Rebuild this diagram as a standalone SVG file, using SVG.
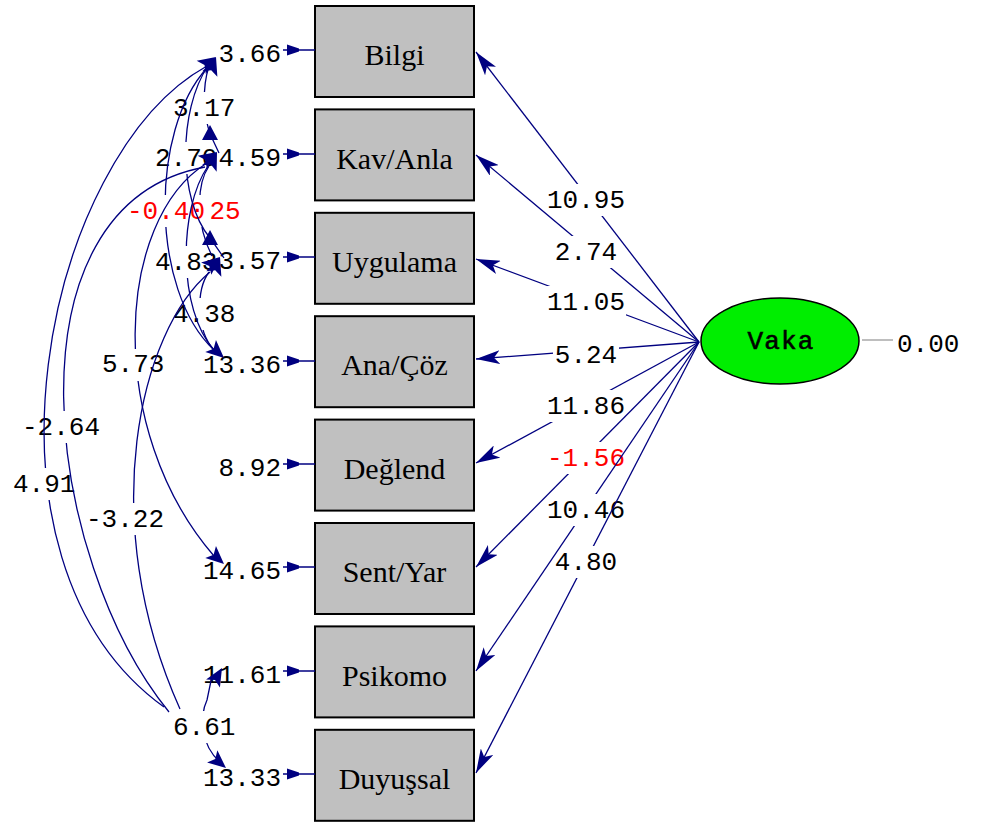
<svg xmlns="http://www.w3.org/2000/svg" xmlns:xlink="http://www.w3.org/1999/xlink" width="981" height="823" viewBox="0 0 981 823">
<style>
.num{font-family:"Liberation Mono","DejaVu Sans Mono",monospace;font-size:26px;fill:#000}
.red{fill:#ff0000}
.end{text-anchor:end}
.mid{text-anchor:middle}
.box{fill:#c0c0c0;stroke:#000;stroke-width:2}
.lbl{font-family:"Liberation Serif","Times New Roman",serif;font-size:30px;text-anchor:middle;fill:#000}
.ln{fill:none;stroke:#000080;stroke-width:1.3}
.hd{fill:#000080;stroke:none}
</style>
<defs>
<marker id="ah" markerUnits="userSpaceOnUse" markerWidth="24" markerHeight="14" refX="24" refY="7" orient="auto" viewBox="0 0 24 14"><path d="M24,7 L0,0 L6,7 L0,14 Z" fill="#000080"/></marker>
<path id="lh" d="M0,0 L-18,-8 L-14,0 L-18,8 Z"/>
<path id="tri" d="M0,0 L-15,-8 L-15,8 Z"/>
<path id="eh" d="M0,-5.5 L12,-1.5 L12,1.5 L0,5.5 Z"/>
<mask id="mR1" maskUnits="userSpaceOnUse" x="0" y="0" width="981" height="823"><rect width="981" height="823" fill="#fff"/><rect x="546" y="184" width="80" height="32"/></mask>
<mask id="mR2" maskUnits="userSpaceOnUse" x="0" y="0" width="981" height="823"><rect width="981" height="823" fill="#fff"/><rect x="553" y="236" width="66" height="32"/></mask>
<mask id="mR3" maskUnits="userSpaceOnUse" x="0" y="0" width="981" height="823"><rect width="981" height="823" fill="#fff"/><rect x="546" y="286" width="80" height="32"/></mask>
<mask id="mR4" maskUnits="userSpaceOnUse" x="0" y="0" width="981" height="823"><rect width="981" height="823" fill="#fff"/><rect x="553" y="339" width="66" height="32"/></mask>
<mask id="mR5" maskUnits="userSpaceOnUse" x="0" y="0" width="981" height="823"><rect width="981" height="823" fill="#fff"/><rect x="546" y="390" width="80" height="32"/></mask>
<mask id="mR6" maskUnits="userSpaceOnUse" x="0" y="0" width="981" height="823"><rect width="981" height="823" fill="#fff"/><rect x="546" y="442" width="80" height="32"/></mask>
<mask id="mR7" maskUnits="userSpaceOnUse" x="0" y="0" width="981" height="823"><rect width="981" height="823" fill="#fff"/><rect x="546" y="494" width="80" height="32"/></mask>
<mask id="mR8" maskUnits="userSpaceOnUse" x="0" y="0" width="981" height="823"><rect width="981" height="823" fill="#fff"/><rect x="553" y="546" width="66" height="32"/></mask>
<mask id="m12" maskUnits="userSpaceOnUse" x="0" y="0" width="981" height="823"><rect width="981" height="823" fill="#fff"/><rect x="171" y="92" width="66" height="32"/></mask>
<mask id="m13" maskUnits="userSpaceOnUse" x="0" y="0" width="981" height="823"><rect width="981" height="823" fill="#fff"/><rect x="153" y="142" width="66" height="32"/></mask>
<mask id="m14" maskUnits="userSpaceOnUse" x="0" y="0" width="981" height="823"><rect width="981" height="823" fill="#fff"/><rect x="125" y="195" width="82" height="32"/></mask>
<mask id="m23" maskUnits="userSpaceOnUse" x="0" y="0" width="981" height="823"><rect width="981" height="823" fill="#fff"/><rect x="161" y="195" width="82" height="32"/></mask>
<mask id="m24" maskUnits="userSpaceOnUse" x="0" y="0" width="981" height="823"><rect width="981" height="823" fill="#fff"/><rect x="153" y="246" width="66" height="32"/></mask>
<mask id="m34" maskUnits="userSpaceOnUse" x="0" y="0" width="981" height="823"><rect width="981" height="823" fill="#fff"/><rect x="171" y="298" width="66" height="32"/></mask>
<mask id="m26" maskUnits="userSpaceOnUse" x="0" y="0" width="981" height="823"><rect width="981" height="823" fill="#fff"/><rect x="100" y="349" width="66" height="32"/></mask>
<mask id="m28" maskUnits="userSpaceOnUse" x="0" y="0" width="981" height="823"><rect width="981" height="823" fill="#fff"/><rect x="20" y="411" width="82" height="32"/></mask>
<mask id="m18" maskUnits="userSpaceOnUse" x="0" y="0" width="981" height="823"><rect width="981" height="823" fill="#fff"/><rect x="11" y="468" width="66" height="32"/></mask>
<mask id="m38" maskUnits="userSpaceOnUse" x="0" y="0" width="981" height="823"><rect width="981" height="823" fill="#fff"/><rect x="84" y="503" width="82" height="32"/></mask>
<mask id="m78" maskUnits="userSpaceOnUse" x="0" y="0" width="981" height="823"><rect width="981" height="823" fill="#fff"/><rect x="171" y="711" width="66" height="32"/></mask>
</defs>
<rect width="981" height="823" fill="#fff"/>

<g id="node-bilgi"><rect class="box" x="315" y="6" width="159" height="91"/><text class="lbl" x="394.5" y="65">Bilgi</text></g>
<g id="node-kavanla"><rect class="box" x="315" y="109.4" width="159" height="91"/><text class="lbl" x="394.5" y="168.5">Kav/Anla</text></g>
<g id="node-uygulama"><rect class="box" x="315" y="212.8" width="159" height="91"/><text class="lbl" x="394.5" y="272">Uygulama</text></g>
<g id="node-anacoz"><rect class="box" x="315" y="316.2" width="159" height="91"/><text class="lbl" x="394.5" y="375">Ana/Çöz</text></g>
<g id="node-deglend"><rect class="box" x="315" y="419.6" width="159" height="91"/><text class="lbl" x="394.5" y="478.5">Değlend</text></g>
<g id="node-sentyar"><rect class="box" x="315" y="523" width="159" height="91"/><text class="lbl" x="394.5" y="582">Sent/Yar</text></g>
<g id="node-psikomo"><rect class="box" x="315" y="626.4" width="159" height="91"/><text class="lbl" x="394.5" y="685.5">Psikomo</text></g>
<g id="node-duyussal"><rect class="box" x="315" y="729.8" width="159" height="91"/><text class="lbl" x="394.5" y="789">Duyuşsal</text></g>

<g id="node-vaka">
<ellipse cx="780" cy="341" rx="79" ry="43" fill="#00ee00" stroke="#000" stroke-width="1.5"/>
<text class="num" x="781" y="349" text-anchor="middle" font-size="28" letter-spacing="1.2" stroke="#000" stroke-width="0.6">Vaka</text>
<line x1="862" y1="340" x2="893" y2="340" stroke="#a8a8a8" stroke-width="1.5"/>
<text class="num" x="897" y="352">0.00</text>
</g>

<g id="errors">
<text class="num end" x="281" y="62">3.66</text>
<text class="num end" x="281" y="166">4.59</text>
<text class="num end" x="281" y="269">3.57</text>
<text class="num end" x="281" y="373">13.36</text>
<text class="num end" x="281" y="476">8.92</text>
<text class="num end" x="281" y="579">14.65</text>
<text class="num end" x="281" y="683">11.61</text>
<text class="num end" x="281" y="786">13.33</text>
<g stroke="#000080" stroke-width="1.5">
<line x1="283" y1="50" x2="315" y2="50"/><line x1="283" y1="154" x2="315" y2="154"/>
<line x1="283" y1="257" x2="315" y2="257"/><line x1="283" y1="361" x2="315" y2="361"/>
<line x1="283" y1="464" x2="315" y2="464"/><line x1="283" y1="567" x2="315" y2="567"/>
<line x1="283" y1="671" x2="315" y2="671"/><line x1="283" y1="774" x2="315" y2="774"/>
</g>
<g class="hd">
<use xlink:href="#eh" x="287" y="50"/><use xlink:href="#eh" x="287" y="154"/>
<use xlink:href="#eh" x="287" y="257"/><use xlink:href="#eh" x="287" y="361"/>
<use xlink:href="#eh" x="287" y="464"/><use xlink:href="#eh" x="287" y="567"/>
<use xlink:href="#eh" x="287" y="671"/><use xlink:href="#eh" x="287" y="774"/>
</g>
</g>

<g id="labels">
<text class="num mid" x="586" y="208">10.95</text>
<text class="num mid" x="586" y="260">2.74</text>
<text class="num mid" x="586" y="310">11.05</text>
<text class="num mid" x="586" y="363">5.24</text>
<text class="num mid" x="586" y="414">11.86</text>
<text class="num mid red" x="586" y="466">-1.56</text>
<text class="num mid" x="586" y="518">10.46</text>
<text class="num mid" x="586" y="570">4.80</text>
<text class="num" x="173" y="116">3.17</text>
<text class="num" x="155" y="166">2.70</text>
<text class="num red" x="127" y="219">-0.40</text>
<text class="num red" x="209.5" y="219">25</text>
<text class="num" x="155" y="270">4.83</text>
<text class="num" x="173" y="322">4.38</text>
<text class="num" x="102" y="372">5.73</text>
<text class="num" x="22" y="435">-2.64</text>
<text class="num" x="13" y="492">4.91</text>
<text class="num" x="86" y="527">-3.22</text>
<text class="num" x="173" y="735">6.61</text>
</g>

<g id="connectors">
<g class="ln" marker-end="url(#ah)">
<path mask="url(#mR1)" d="M699,342 L476,52"/>
<path mask="url(#mR2)" d="M699,342 L476,155"/>
<path mask="url(#mR3)" d="M699,342 L476,259"/>
<path mask="url(#mR4)" d="M699,342 L476,359"/>
<path mask="url(#mR5)" d="M699,342 L476,463"/>
<path mask="url(#mR6)" d="M699,342 L476,567"/>
<path mask="url(#mR7)" d="M699,342 L476,671"/>
<path mask="url(#mR8)" d="M699,342 L476,773"/>
</g>
<g class="ln">
<path mask="url(#m12)" d="M209,66 C202,88 203,116 211,136 L219,153"/>
<path mask="url(#m13)" d="M208,66 C178,110 178,200 210,238 L224,258"/>
<path mask="url(#m14)" d="M207,68 C150,130 150,290 214,350"/>
<path mask="url(#m23)" d="M209,166 C196,185 196,225 212,256"/>
<path mask="url(#m24)" d="M208,166 C178,210 178,310 214,350"/>
<path mask="url(#m34)" d="M209,272 C196,290 196,330 214,350"/>
<path mask="url(#m26)" d="M207,163 C115,220 105,430 214,556"/>
<path mask="url(#m28)" d="M205,167 C0,205 45,560 169,712"/>
<path mask="url(#m18)" d="M207,66 C45,155 -40,560 164,707"/>
<path mask="url(#m38)" d="M210,272 C140,330 95,520 180,709"/>
<path mask="url(#m78)" d="M212,676 L207,700 C200,715 200,745 220,762"/>
</g>
<g class="hd">
<use xlink:href="#lh" transform="translate(216,57) rotate(-35)"/>
<use xlink:href="#lh" transform="translate(216,57) rotate(-70)"/>
<use xlink:href="#tri" transform="translate(210,125) rotate(-90)"/>
<use xlink:href="#lh" transform="translate(217,152) rotate(-35)"/>
<use xlink:href="#lh" transform="translate(217,152) rotate(-65)"/>
<use xlink:href="#tri" transform="translate(210,230) rotate(-90)"/>
<use xlink:href="#lh" transform="translate(220,257) rotate(-40)"/>
<use xlink:href="#lh" transform="translate(220,257) rotate(-70)"/>
<use xlink:href="#lh" transform="translate(224,358) rotate(42)"/>
<use xlink:href="#lh" transform="translate(224,564) rotate(42)"/>
<use xlink:href="#lh" transform="translate(222,668) rotate(-60)"/>
<use xlink:href="#lh" transform="translate(226,768) rotate(40)"/>
</g>
</g>
</svg>
